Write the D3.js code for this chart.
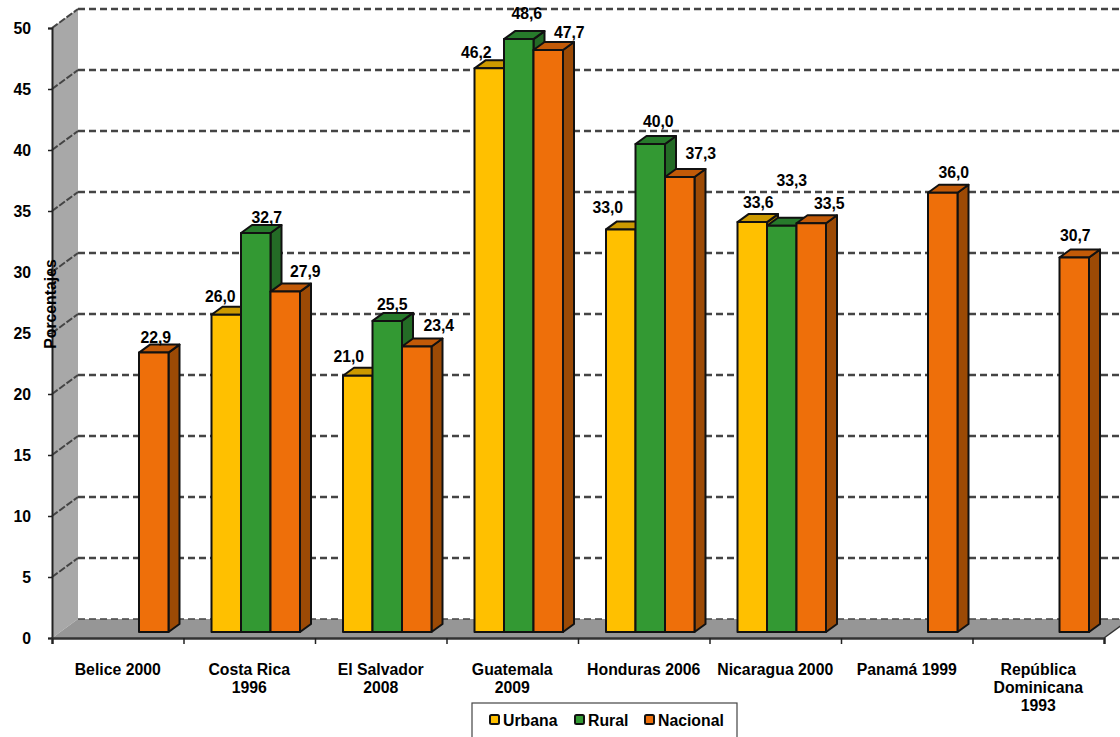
<!DOCTYPE html>
<html>
<head>
<meta charset="utf-8">
<script src="https://cdn.jsdelivr.net/npm/d3@7/dist/d3.min.js"></script>
<style>
  html, body { margin: 0; padding: 0; background: #fff; }
  svg { display: block; }
  text { font-family: "Liberation Sans", Arial, sans-serif; font-weight: bold; fill: #000; font-size: 15.8px; }
</style>
</head>
<body>
<svg id="chart" width="1120" height="737"></svg>
<script>
// Values per country, in percent; null where the survey gives no breakdown.
const categories = ["Belice 2000", "Costa Rica 1996", "El Salvador 2008", "Guatemala 2009",
                    "Honduras 2006", "Nicaragua 2000", "Panamá 1999", "República Dominicana 1993"];
const categoryLines = [["Belice 2000"], ["Costa Rica", "1996"], ["El Salvador", "2008"], ["Guatemala", "2009"],
                       ["Honduras 2006"], ["Nicaragua 2000"], ["Panamá 1999"], ["República", "Dominicana", "1993"]];
const seriesNames = ["Urbana", "Rural", "Nacional"];
const urbana   = [null, 26.0, 21.0, 46.2, 33.0, 33.6, null, null];
const rural    = [null, 32.7, 25.5, 48.6, 40.0, 33.3, null, null];
const nacional = [22.9, 27.9, 23.4, 47.7, 37.3, 33.5, 36.0, 30.7];
const yTicks = [0, 5, 10, 15, 20, 25, 30, 35, 40, 45, 50];

const front = { Urbana: "#ffc000", Rural: "#339933", Nacional: "#ee6f0a" };
const top_  = { Urbana: "#cc9900", Rural: "#277a2b", Nacional: "#c25a08" };
const side  = { Urbana: "#a67c00", Rural: "#246b26", Nacional: "#9c4a05" };

// Hand placement of the value labels, relative to the centre of each bar's top edge.
const labelOffsets = {
  Urbana:   [null, [-6, -18], [-9, -19], [-13, -16], [-13, -22], [6, -20], null, null],
  Rural:    [null, [11, -16], [5, -16], [8, -26], [8, -23], [10, -45], null, null],
  Nacional: [[2, -15], [20, -20], [22, -21], [21, -18], [21, -23], [18, -20], [11, -20], [1, -22]]
};

const svg = d3.select("#chart");

// Front plane of the 3-D box, and how far the back wall is shifted from it.
const left = 52, right = 1104, baseY = 638, topY = 28;
const wallDx = 26, wallDy = -19;
// Bars stand half-way into the floor and have their own shallower depth.
const barShiftX = 6, barShiftY = -6, barDx = 11, barDy = -8;

const y = d3.scaleLinear().domain([0, 50]).range([baseY, topY]);
const x0 = d3.scaleBand().domain(categories).range([left, right]);
const x1 = d3.scaleBand().domain(seriesNames).range([22, 110.5]);
const xTickPos = d3.scaleLinear().domain([0, categories.length]).range([left, right]);

const points = a => a.map(p => p.join(",")).join(" ");

// Left wall and floor
svg.append("polygon").attr("fill", "#a8a8a8")
  .attr("points", points([[left, y(50)], [left + wallDx, y(50) + wallDy], [left + wallDx, y(0) + wallDy], [left, y(0)]]));
svg.append("polygon").attr("fill", "#969696")
  .attr("points", points([[left, y(0)], [left + wallDx, y(0) + wallDy], [right + wallDx, y(0) + wallDy], [right, y(0)]]));

// Dashed gridlines on the back wall and their return along the left wall
const grid = svg.append("g").attr("fill", "none").attr("stroke", "#444");
grid.selectAll("line.back").data(yTicks).join("line").attr("class", "back")
  .attr("x1", left + wallDx).attr("x2", right + wallDx)
  .attr("y1", d => y(d) + wallDy).attr("y2", d => y(d) + wallDy)
  .attr("stroke-width", d => d === 0 ? 1.5 : 2.4)
  .attr("stroke-dasharray", "7 4");
grid.selectAll("line.wall").data(yTicks.filter(d => d > 0)).join("line").attr("class", "wall")
  .attr("x1", left).attr("x2", left + wallDx)
  .attr("y1", d => y(d)).attr("y2", d => y(d) + wallDy)
  .attr("stroke-width", 2)
  .attr("stroke-dasharray", "7 2");

// Floor's right edge
svg.append("line").attr("stroke", "#333").attr("stroke-width", 1.5)
  .attr("x1", right).attr("y1", y(0)).attr("x2", right + wallDx).attr("y2", y(0) + wallDy);

// Axes
const yAxis = d3.axisLeft(y).tickValues(yTicks).tickSize(4).tickPadding(17).tickFormat(d3.format("d"));
const gy = svg.append("g").attr("transform", `translate(${left},0)`).call(yAxis);
gy.select(".domain").attr("stroke", "#222").attr("stroke-width", 2);
gy.selectAll(".tick line").attr("stroke", "#222").attr("stroke-width", 1.5);
gy.selectAll(".tick text").style("font-size", "15.8px").style("font-family", "Liberation Sans").attr("x", -21).attr("dy", "0.33em");

const xAxis = d3.axisBottom(xTickPos).tickValues(d3.range(categories.length + 1)).tickSize(6).tickFormat("");
const gx = svg.append("g").attr("transform", `translate(0,${baseY})`).call(xAxis);
gx.select(".domain").attr("stroke", "#333").attr("stroke-width", 2.4);
gx.selectAll(".tick line").attr("stroke", "#222").attr("stroke-width", 1.5);

// Bars, drawn left to right so each one covers its neighbour's side face
const rows = categories.flatMap((c, i) => seriesNames.map((s, k) => ({
  category: c, series: s, index: i,
  value: [urbana, rural, nacional][k][i],
  offset: labelOffsets[s][i]
}))).filter(d => d.value !== null);

const bars = svg.append("g").attr("stroke", "#111").attr("stroke-width", 2).attr("stroke-linejoin", "round");
const bar = bars.selectAll("g").data(rows).join("g")
  .attr("transform", d => `translate(${x0(d.category) + x1(d.series) + barShiftX},${barShiftY})`);

bar.append("polygon").attr("fill", d => side[d.series])
  .attr("points", d => {
    const w = x1.bandwidth();
    return points([[w, y(d.value)], [w + barDx, y(d.value) + barDy], [w + barDx, y(0) + barDy], [w, y(0)]]);
  });
bar.append("polygon").attr("fill", d => top_[d.series])
  .attr("points", d => {
    const w = x1.bandwidth();
    return points([[0, y(d.value)], [barDx, y(d.value) + barDy], [w + barDx, y(d.value) + barDy], [w, y(d.value)]]);
  });
bar.append("rect").attr("fill", d => front[d.series])
  .attr("x", 0).attr("width", x1.bandwidth())
  .attr("y", d => y(d.value)).attr("height", d => y(0) - y(d.value));

// Value labels go on last so no bar hides them
svg.append("g").selectAll("text").data(rows).join("text")
  .attr("text-anchor", "middle")
  .attr("x", d => x0(d.category) + x1(d.series) + barShiftX + x1.bandwidth() / 2 + d.offset[0])
  .attr("y", d => y(d.value) + barShiftY + d.offset[1] + 5.5)
  .text(d => d.value.toFixed(1).replace(".", ","));

// Category names under the axis, wrapped by hand
const catLabels = svg.append("g").selectAll("text").data(categories).join("text")
  .attr("text-anchor", "middle")
  .attr("x", d => x0(d) + x0.bandwidth() / 2)
  .attr("y", 674.5);
catLabels.selectAll("tspan").data((d, i) => categoryLines[i]).join("tspan")
  .attr("x", function () { return d3.select(this.parentNode).attr("x"); })
  .attr("dy", (d, i) => i ? 18.3 : 0)
  .text(d => d);

// Vertical axis title
svg.append("text").attr("text-anchor", "middle")
  .attr("transform", "translate(55.5,304) rotate(-90)")
  .text("Porcentajes");

// Legend
const legend = svg.append("g");
legend.append("rect").attr("x", 472).attr("y", 703).attr("width", 265).attr("height", 40)
  .attr("fill", "#fff").attr("stroke", "#444").attr("stroke-width", 1.2);
const legendX = d3.scaleOrdinal().domain(seriesNames).range([490, 575, 645]);
const item = legend.selectAll("g").data(seriesNames).join("g")
  .attr("transform", d => `translate(${legendX(d)},715)`);
item.append("rect").attr("width", 9).attr("height", 9).attr("rx", 1.5)
  .attr("fill", d => front[d]).attr("stroke", "#111").attr("stroke-width", 2);
item.append("text").attr("x", 13).attr("y", 11).text(d => d);
</script>
</body>
</html>
